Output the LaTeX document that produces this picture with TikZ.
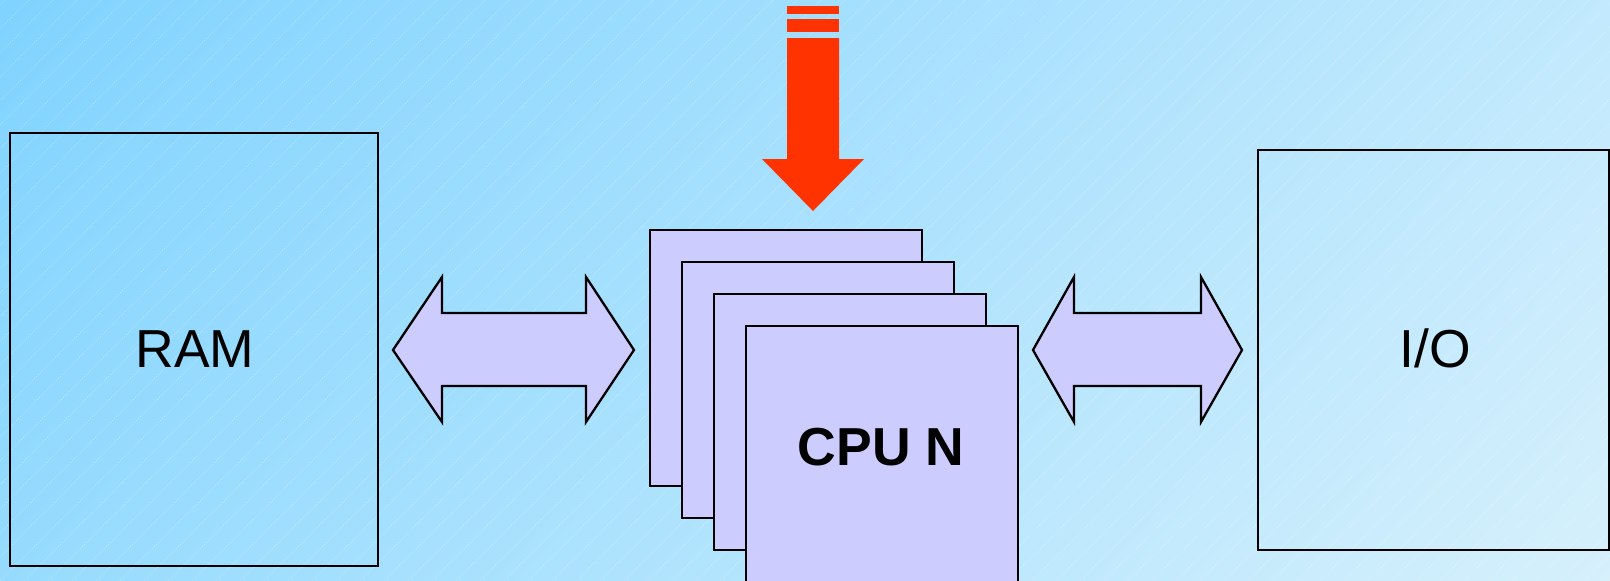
\documentclass[tikz,border=0pt]{standalone}
\usepackage{fontspec}
\setmainfont{Liberation Sans}
\usetikzlibrary{shadings}
\begin{document}
\begin{tikzpicture}[x=1pt,y=-1pt,
  outline/.style={draw=black,line width=2.3pt},
  membox/.style={outline,rectangle,inner sep=0pt},
  cpubox/.style={outline,fill=lavender,rectangle,inner sep=0pt,minimum width=272pt,minimum height=256pt},
  dblarrow/.style={outline,fill=lavender,line join=miter},
  biglabel/.style={font=\fontsize{53.5}{62}\selectfont,anchor=base,inner sep=0pt},
  cpulabel/.style={font=\fontsize{53.5}{62}\selectfont\bfseries,anchor=base,inner sep=0pt},
  hotarrow/.style={fill=hotred,draw=none}]
\definecolor{lavender}{RGB}{204,204,255}
\definecolor{hotred}{RGB}{255,51,0}
\definecolor{bgUL}{RGB}{128,211,255}
\definecolor{bgUR}{RGB}{194,233,253}
\definecolor{bgLL}{RGB}{150,219,254}
\definecolor{bgLR}{RGB}{214,240,252}
\clip (0,0) rectangle (1610,581);
% background
\shade[upper left=bgUL,upper right=bgUR,lower left=bgLL,lower right=bgLR] (0,0) rectangle (1610,581);
\foreach \k in {-600,-576,...,1610}
  \draw[white,opacity=0.5,line width=0.7pt,dotted] (\k,581) -- (\k+581,0);
% memory and I/O boxes
\node[membox,minimum width=368pt,minimum height=433pt] (ram) at (194,349.5) {};
\node[membox,minimum width=351pt,minimum height=400pt] (io) at (1433.5,350) {};
\node[biglabel] (ramlabel) at (195,367) {RAM};
\node[biglabel] (iolabel) at (1435,367) {I/O};
% double arrows
\draw[dblarrow] (393,350) -- (442,277) -- (442,313) -- (586,313) -- (586,277) -- (634,350)
  -- (586,422) -- (586,386) -- (442,386) -- (442,422) -- cycle;
\draw[dblarrow] (1033,350) -- (1074,277) -- (1074,313) -- (1201,313) -- (1201,277) -- (1242,350)
  -- (1201,422) -- (1201,386) -- (1074,386) -- (1074,422) -- cycle;
% CPU stack
\node[cpubox] (cpu1) at (786,358) {};
\node[cpubox] (cpu2) at (818,390) {};
\node[cpubox] (cpu3) at (850,422) {};
\node[cpubox] (cpu4) at (882,454) {};
\node[cpulabel] (cpulabel) at (881,465) {CPU N};
% red arrow
\fill[hotarrow] (787,6) rectangle (839,13.5);
\fill[hotarrow] (787,19) rectangle (839,32);
\fill[hotarrow] (787,38) -- (839,38) -- (839,159) -- (864,159) -- (813,211) -- (762,159) -- (787,159) -- cycle;
\end{tikzpicture}
\end{document}
